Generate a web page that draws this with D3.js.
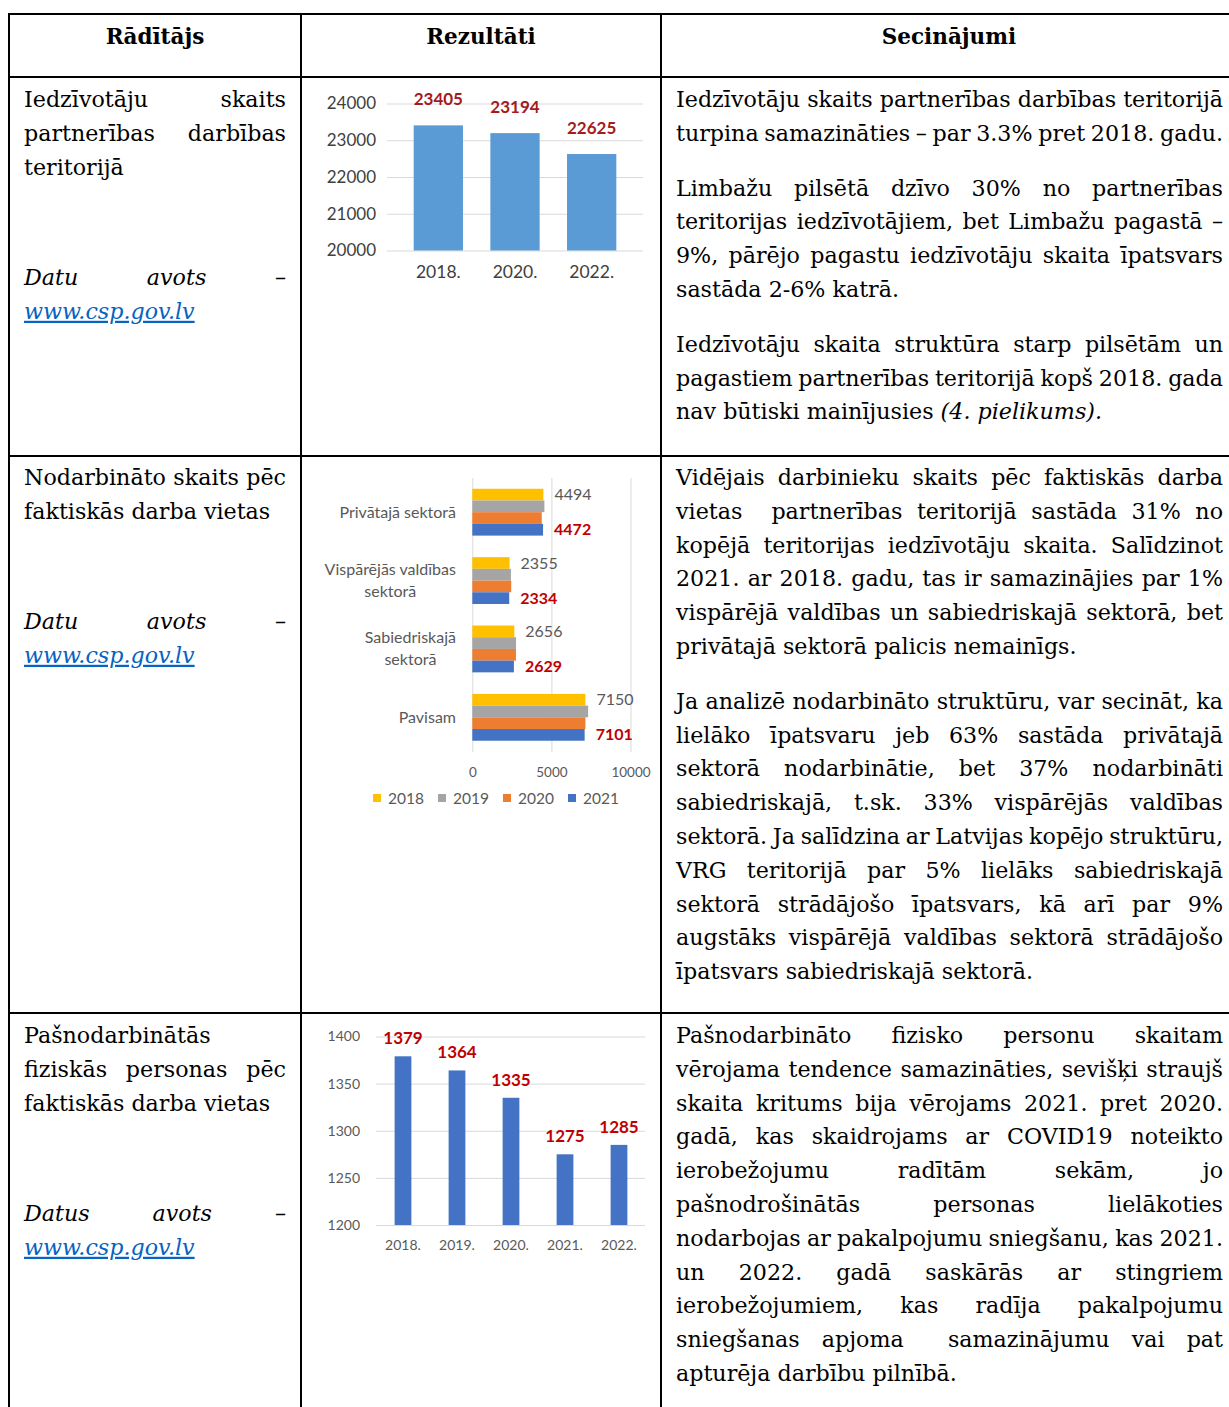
<!DOCTYPE html>
<html>
<head>
<meta charset="utf-8">
<script src="https://cdn.jsdelivr.net/npm/d3@7"></script>
<style>
  body { margin: 0; background: #fff; }
</style>
</head>
<body>
<div id="page"></div>
<script>
// ---- chart data ----
const popYears = ["2018.", "2020.", "2022."];
const popValues = [23405, 23194, 22625];
const popTicks = [20000, 21000, 22000, 23000, 24000];

const sectorNames = [["Privātajā sektorā"], ["Vispārējās valdības", "sektorā"], ["Sabiedriskajā", "sektorā"], ["Pavisam"]];
const sectorYears = ["2018", "2019", "2020", "2021"];
const workers2018 = [4494, 2355, 2656, 7150];
const workers2019 = [4557, 2440, 2765, 7322];
const workers2020 = [4390, 2460, 2760, 7150];
const workers2021 = [4472, 2334, 2629, 7101];
const workerTicks = [0, 5000, 10000];
const sectorColors = ["#ffc000", "#a5a5a5", "#ed7d31", "#4472c4"];

const selfYears = ["2018.", "2019.", "2020.", "2021.", "2022."];
const selfValues = [1379, 1364, 1335, 1275, 1285];
const selfTicks = [1200, 1250, 1300, 1350, 1400];

// ---- table text ----
const headers = ["Rādītājs", "Rezultāti", "Secinājumi"];

const leftRow1 = [["Iedzīvotāju skaits", "partnerības darbības", "teritorijā"]];
const leftRow2 = [["Nodarbināto skaits pēc", "faktiskās darba vietas"]];
const leftRow3 = [["Pašnodarbinātās", "fiziskās personas pēc", "faktiskās darba vietas"]];
const source1 = [["*Datu avots –*", "@www.csp.gov.lv"]];
const source3 = [["*Datus avots –*", "@www.csp.gov.lv"]];

const notesRow1 = [
    ["Iedzīvotāju skaits partnerības darbības teritorijā",
     ">turpina samazināties – par 3.3% pret 2018. gadu."],
    ["Limbažu pilsētā dzīvo 30% no partnerības",
     "teritorijas iedzīvotājiem, bet Limbažu pagastā –",
     "9%, pārējo pagastu iedzīvotāju skaita īpatsvars",
     "sastāda 2-6% katrā."],
    ["Iedzīvotāju skaita struktūra starp pilsētām un",
     "pagastiem partnerības teritorijā kopš 2018. gada",
     "nav būtiski mainījusies *(4. pielikums).*"]
];
const notesRow2 = [
    ["Vidējais darbinieku skaits pēc faktiskās darba",
     "vietas  partnerības teritorijā sastāda 31% no",
     "kopējā teritorijas iedzīvotāju skaita. Salīdzinot",
     "2021. ar 2018. gadu, tas ir samazinājies par 1%",
     "vispārējā valdības un sabiedriskajā sektorā, bet",
     "privātajā sektorā palicis nemainīgs."],
    ["Ja analizē nodarbināto struktūru, var secināt, ka",
     "lielāko īpatsvaru jeb 63% sastāda privātajā",
     "sektorā nodarbinātie, bet 37% nodarbināti",
     "sabiedriskajā, t.sk. 33% vispārējās valdības",
     "sektorā. Ja salīdzina ar Latvijas kopējo struktūru,",
     "VRG teritorijā par 5% lielāks sabiedriskajā",
     "sektorā strādājošo īpatsvars, kā arī par 9%",
     "augstāks vispārējā valdības sektorā strādājošo",
     "īpatsvars sabiedriskajā sektorā."]
];
const notesRow3 = [
    ["Pašnodarbināto fizisko personu skaitam",
     "vērojama tendence samazināties, sevišķi straujš",
     "skaita kritums bija vērojams 2021. pret 2020.",
     "gadā, kas skaidrojams ar COVID19 noteikto",
     "ierobežojumu radītām sekām, jo",
     "pašnodrošinātās personas lielākoties",
     "nodarbojas ar pakalpojumu sniegšanu, kas 2021.",
     "un 2022. gadā saskārās ar stingriem",
     "ierobežojumiem, kas radīja pakalpojumu",
     "sniegšanas apjoma  samazinājumu vai pat",
     "apturēja darbību pilnībā."]
];

// ---- page ----
const W = 1229, H = 1407;
const serif = "'DejaVu Serif', serif";
const sans = "Lato, 'Open Sans', sans-serif";
const fs = 22.2;

const svg = d3.select("#page").append("svg")
    .attr("width", W)
    .attr("height", H)
    .style("display", "block");

const colX = [9, 301, 661, 1237];
const rowY = [14, 77, 456, 1013];

// table rules
const rules = svg.append("g").attr("stroke", "#000").attr("stroke-width", 2);
rowY.forEach(y => rules.append("line").attr("x1", colX[0] - 1).attr("x2", W + 20).attr("y1", y).attr("y2", y));
colX.forEach(x => rules.append("line").attr("x1", x).attr("x2", x).attr("y1", rowY[0]).attr("y2", H + 10));

svg.selectAll("text.hdr")
    .data(headers)
    .join("text")
    .attr("class", "hdr")
    .attr("x", (d, i) => (colX[i] + colX[i + 1]) / 2)
    .attr("y", 44)
    .attr("text-anchor", "middle")
    .attr("font-family", serif)
    .attr("font-weight", "bold")
    .attr("font-size", 21.5)
    .attr("fill", "#000")
    .text(d => d);

// word-by-word line setting, so lines can be justified like the document
const textG = svg.append("g");
const probe = textG.append("text").attr("font-family", serif).attr("font-size", fs);
const spaceW = probe.text("x x").node().getComputedTextLength() - probe.text("xx").node().getComputedTextLength();
probe.remove();

function setLine(line, x0, x1, base, justify) {
    let link = false;
    if (line.startsWith("@")) { link = true; line = line.slice(1); }
    let italic = link;
    const words = line.split(" ").map(tok => {
        let t = tok;
        if (t.startsWith("*")) { t = t.slice(1); italic = true; }
        const w = {t: t, it: italic};
        if (t.endsWith("*")) { w.t = t.slice(0, -1); italic = false; }
        return w;
    });
    const nodes = words.map(w => textG.append("text")
        .attr("y", base)
        .attr("font-family", serif)
        .attr("font-size", fs)
        .attr("font-style", w.it ? "italic" : "normal")
        .attr("fill", link ? "#0563c1" : "#000")
        .style("text-decoration", link ? "underline" : null)
        .text(w.t));
    const widths = nodes.map(n => n.node().getComputedTextLength());
    const sum = d3.sum(widths);
    const n = words.length;
    const avail = x1 - x0;
    let gap = spaceW, scale = 1;
    if (justify && n > 1) gap = (avail - sum) / (n - 1);
    const minGap = fs * 0.15;
    if (n > 1 && gap < minGap) gap = minGap;
    if (sum + gap * (n - 1) > avail) scale = (avail - gap * (n - 1)) / sum;
    let x = x0;
    nodes.forEach((node, i) => {
        node.attr("x", x);
        if (scale < 1 && widths[i] > 0) {
            node.attr("textLength", widths[i] * scale).attr("lengthAdjust", "spacingAndGlyphs");
        }
        x += widths[i] * scale + gap;
    });
}

function setParagraphs(paras, x0, x1, yStart) {
    const lh = 33.8, pgap = 21;
    let y = yStart;
    paras.forEach(lines => {
        lines.forEach((ln, li) => {
            let just = li < lines.length - 1;
            if (ln.startsWith(">")) { just = true; ln = ln.slice(1); }
            setLine(ln, x0, x1, y + 7, just);
            y += lh;
        });
        y += pgap;
    });
}

setParagraphs(leftRow1, 24, 286, 100);
setParagraphs(source1, 24, 286, 278);
setParagraphs(leftRow2, 24, 286, 478);
setParagraphs(source1, 24, 286, 622);
setParagraphs(leftRow3, 24, 286, 1036);
setParagraphs(source3, 24, 286, 1214);

setParagraphs(notesRow1, 676, 1223, 100);
setParagraphs(notesRow2, 676, 1223, 478);
setParagraphs(notesRow3, 676, 1223, 1036);

// ---- chart 1: population ----
const c1 = svg.append("g");
const x1 = d3.scaleBand().domain(popYears).range([400, 630]).paddingInner(0.357).paddingOuter(0.1785);
const y1 = d3.scaleLinear().domain([20000, 24000]).range([250.5, 103.5]);

c1.append("g")
    .attr("transform", "translate(387,0)")
    .call(d3.axisLeft(y1).tickValues(popTicks).tickSize(-(643 - 387)).tickPadding(11).tickFormat(d3.format("d")))
    .call(g => g.select(".domain").remove())
    .call(g => g.selectAll(".tick line").attr("stroke", "#d9d9d9"))
    .call(g => g.selectAll(".tick text").attr("fill", "#404040").attr("font-family", sans).attr("font-size", 17));

c1.append("g")
    .attr("transform", "translate(0,250.5)")
    .call(d3.axisBottom(x1).tickSize(0).tickPadding(15))
    .call(g => g.select(".domain").remove())
    .call(g => g.selectAll(".tick text").attr("fill", "#404040").attr("font-family", sans).attr("font-size", 17.5));

c1.selectAll("rect")
    .data(popValues)
    .join("rect")
    .attr("x", (d, i) => x1(popYears[i]))
    .attr("width", x1.bandwidth())
    .attr("y", d => y1(d))
    .attr("height", d => y1(20000) - y1(d))
    .attr("fill", "#5b9bd5");

c1.selectAll("text.lbl")
    .data(popValues)
    .join("text")
    .attr("class", "lbl")
    .attr("x", (d, i) => x1(popYears[i]) + x1.bandwidth() / 2)
    .attr("y", d => y1(d) - 20)
    .attr("text-anchor", "middle")
    .attr("font-family", sans)
    .attr("font-weight", "bold")
    .attr("font-size", 17)
    .attr("fill", "#a31b1b")
    .text(d => d);

// ---- chart 2: employed by sector ----
const c2 = svg.append("g");
const sectorKeys = sectorNames.map(d => d.join(" "));
const workerSeries = [workers2018, workers2019, workers2020, workers2021];
const y2 = d3.scaleBand().domain(sectorKeys).range([478, 751.5]).paddingInner(0.315).paddingOuter(0.1575);
const yy2 = d3.scaleBand().domain(sectorYears).range([0, y2.bandwidth()]);
const x2 = d3.scaleLinear().domain([0, 10000]).range([472.3, 630.5]);

c2.append("g")
    .attr("transform", "translate(0,752)")
    .call(d3.axisBottom(x2).tickValues(workerTicks).tickSize(-(752 - 478)).tickPadding(15).tickFormat(d3.format("d")))
    .call(g => g.select(".domain").remove())
    .call(g => g.selectAll(".tick line").attr("stroke", "#d9d9d9"))
    .call(g => g.selectAll(".tick text").attr("fill", "#595959").attr("font-family", sans).attr("font-size", 13.5));

const groups = c2.selectAll("g.sector")
    .data(sectorKeys)
    .join("g")
    .attr("class", "sector")
    .attr("transform", d => `translate(0,${y2(d)})`);

groups.selectAll("rect")
    .data((d, i) => sectorYears.map((yr, j) => ({yr: yr, v: workerSeries[j][i], j: j})))
    .join("rect")
    .attr("x", x2(0))
    .attr("y", d => yy2(d.yr))
    .attr("width", d => x2(d.v) - x2(0))
    .attr("height", yy2.bandwidth())
    .attr("fill", d => sectorColors[d.j]);

// labels for first and last year
groups.append("text")
    .attr("x", (d, i) => x2(workers2018[i]) + 11)
    .attr("y", yy2("2018") + yy2.bandwidth() / 2 + 5.5)
    .attr("font-family", sans)
    .attr("font-size", 16)
    .attr("fill", "#595959")
    .text((d, i) => workers2018[i]);

groups.append("text")
    .attr("x", (d, i) => x2(workers2021[i]) + 11)
    .attr("y", yy2("2021") + yy2.bandwidth() / 2 + 5.5)
    .attr("font-family", sans)
    .attr("font-weight", "bold")
    .attr("font-size", 16)
    .attr("fill", "#c00000")
    .text((d, i) => workers2021[i]);

// category labels, lines centred, block right aligned
sectorNames.forEach((lines, i) => {
    const t = c2.append("text")
        .attr("font-family", sans)
        .attr("font-size", 16)
        .attr("fill", "#595959")
        .attr("text-anchor", "middle");
    const mid = y2(sectorKeys[i]) + y2.bandwidth() / 2;
    lines.forEach((ln, k) => {
        t.append("tspan")
            .attr("x", 0)
            .attr("y", mid + 5.5 + (k - (lines.length - 1) / 2) * 22)
            .text(ln);
    });
    const w = t.node().getBBox().width;
    t.selectAll("tspan").attr("x", 456 - w / 2);
});

// legend
const legend = c2.selectAll("g.leg")
    .data(sectorYears)
    .join("g")
    .attr("class", "leg")
    .attr("transform", (d, i) => `translate(${373 + i * 65},798)`);
legend.append("rect")
    .attr("x", 0).attr("y", -4).attr("width", 8).attr("height", 8)
    .attr("fill", (d, i) => sectorColors[i]);
legend.append("text")
    .attr("x", 15).attr("y", 5.5)
    .attr("font-family", sans)
    .attr("font-size", 15.5)
    .attr("fill", "#595959")
    .text(d => d);

// ---- chart 3: self-employed ----
const c3 = svg.append("g");
const x3 = d3.scaleBand().domain(selfYears).range([376, 646]).paddingInner(0.69).paddingOuter(0.345);
const y3 = d3.scaleLinear().domain([1200, 1400]).range([1225, 1036.5]);

c3.append("g")
    .attr("transform", "translate(376,0)")
    .call(d3.axisLeft(y3).tickValues(selfTicks).tickSize(-(645 - 376)).tickPadding(16).tickFormat(d3.format("d")))
    .call(g => g.select(".domain").remove())
    .call(g => g.selectAll(".tick line").attr("stroke", "#d9d9d9"))
    .call(g => g.selectAll(".tick text").attr("fill", "#595959").attr("font-family", sans).attr("font-size", 14));

c3.append("g")
    .attr("transform", "translate(0,1225)")
    .call(d3.axisBottom(x3).tickSize(0).tickPadding(15))
    .call(g => g.select(".domain").remove())
    .call(g => g.selectAll(".tick text").attr("fill", "#595959").attr("font-family", sans).attr("font-size", 14));

c3.selectAll("rect")
    .data(selfValues)
    .join("rect")
    .attr("x", (d, i) => x3(selfYears[i]))
    .attr("width", x3.bandwidth())
    .attr("y", d => y3(d))
    .attr("height", d => y3(1200) - y3(d))
    .attr("fill", "#4472c4");

c3.selectAll("text.lbl")
    .data(selfValues)
    .join("text")
    .attr("class", "lbl")
    .attr("x", (d, i) => x3(selfYears[i]) + x3.bandwidth() / 2)
    .attr("y", d => y3(d) - 12)
    .attr("text-anchor", "middle")
    .attr("font-family", sans)
    .attr("font-weight", "bold")
    .attr("font-size", 17)
    .attr("fill", "#c00000")
    .text(d => d);
</script>
</body>
</html>
